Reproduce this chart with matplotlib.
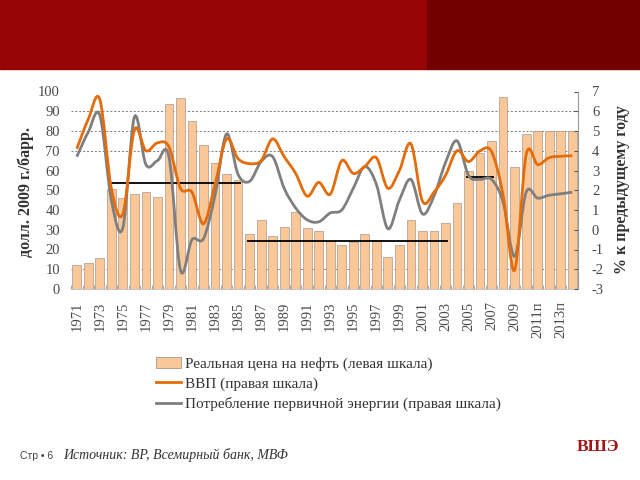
import matplotlib
matplotlib.use('Agg')
import matplotlib.pyplot as plt
import numpy as np
from matplotlib.path import Path
from matplotlib.patches import PathPatch, Rectangle, Patch
from matplotlib.lines import Line2D

plt.rcParams['axes.unicode_minus'] = False

# ---------------- data ----------------
years = list(range(1971, 2015))
tick_labels = ['1971', '1973', '1975', '1977', '1979', '1981', '1983', '1985',
               '1987', '1989', '1991', '1993', '1995', '1997', '1999', '2001',
               '2003', '2005', '2007', '2009', '2011п', '2013п']
oil_price = [12, 13, 15.5, 50.5, 46, 48, 49, 46.5, 93.5, 96.5,
             85, 73, 64, 58, 55, 28, 35, 27, 31.5, 39,
             31, 29.5, 24.5, 22.5, 24, 28, 25, 16, 22.5, 35,
             29.5, 29.5, 33.5, 43.5, 60, 69, 75, 97, 62, 78.5,
             80, 80, 80, 80]
gdp = [4.1, 5.6, 6.6, 2.1, 0.8, 5.05, 4.0, 4.4, 4.2, 2.1,
       1.9, 0.3, 2.3, 4.6, 3.6, 3.35, 3.5, 4.6, 3.7, 2.85,
       1.7, 2.4, 1.8, 3.5, 2.85, 3.2, 3.65, 2.1, 3.0, 4.35,
       1.45, 1.9, 2.75, 4.0, 3.45, 4.0, 3.95, 1.75, -2.05, 3.8,
       3.3, 3.65, 3.72, 3.75]
energy = [3.7, 4.95, 5.8, 1.5, 0.1, 5.7, 3.3, 3.5, 3.7, -2.05,
          -0.5, -0.45, 1.75, 4.85, 2.8, 2.45, 3.45, 3.7, 2.1, 1.1,
          0.5, 0.4, 0.85, 1.0, 2.1, 3.2, 2.3, 0.05, 1.5, 2.55,
          0.8, 1.7, 3.4, 4.5, 2.75, 2.55, 2.55, 1.4, -1.35, 1.9,
          1.6, 1.75, 1.82, 1.9]
avg_periods = [(1974, 1985, 53.5), (1986, 2003, 24.3), (2005, 2007, 56.5)]
grid_levels = [10, 70, 80, 90]

legend_labels = ['Реальная цена на нефть (левая шкала)',
                 'ВВП (правая шкала)',
                 'Потребление первичной энергии (правая шкала)']

SERIF = 'Liberation Serif'
BAR_C = '#FAC898'
BAR_E = '#a8988c'
ORANGE = '#E46C0A'
GRAY = '#7F7F7F'
TXT = '#4a4a4a'


def smooth_path(xs, ys):
    pts = np.column_stack([xs, ys]).astype(float)
    n = len(pts)
    verts = [pts[0]]
    codes = [Path.MOVETO]
    for i in range(n - 1):
        p0 = pts[i - 1] if i > 0 else pts[i]
        p1 = pts[i]
        p2 = pts[i + 1]
        p3 = pts[i + 2] if i + 2 < n else pts[i + 1]
        c1 = p1 + (p2 - p0) / 6.0
        c2 = p2 - (p3 - p1) / 6.0
        verts += [c1, c2, p2]
        codes += [Path.CURVE4] * 3
    return Path(verts, codes)


fig = plt.figure(figsize=(6.4, 4.8), dpi=100)

# banner
fig.patches.append(Rectangle((0, 1 - 69 / 480), 427 / 640, 69 / 480,
                             transform=fig.transFigure, color='#960404', zorder=0))
fig.patches.append(Rectangle((427 / 640, 1 - 69 / 480), 1 - 427 / 640, 69 / 480,
                             transform=fig.transFigure, color='#730000', zorder=0))

ax = fig.add_axes([71 / 640, 1 - 289 / 480, 507 / 640, 197.5 / 480])
x = np.arange(len(years))
ax.bar(x, oil_price, width=0.76, color=BAR_C, edgecolor=BAR_E, linewidth=0.5, zorder=2)
for g in grid_levels:
    ax.axhline(g, color='#7a7a7a', lw=0.7, ls=(0, (2, 2)), zorder=1)
for s, e, v in avg_periods:
    ax.hlines(v, years.index(s) - 0.2, years.index(e) + 0.25, color='black', lw=1.3, zorder=3)
ax.set_xlim(-0.5, len(years) - 0.5)
ax.set_ylim(0, 100)
ax.set_yticks(range(0, 101, 10))
ax.set_xticks(x[::2])
ax.set_xticklabels(tick_labels, rotation=90, fontfamily=SERIF, fontsize=10.5, color=TXT)
ax.set_xticks(np.arange(-0.5, len(years), 1), minor=True)
ax.tick_params(axis='x', which='major', length=0, pad=9)
ax.tick_params(axis='x', which='minor', length=3, direction='in', color='#999999')
ax.tick_params(axis='y', length=0, pad=8, labelsize=10.5, labelcolor=TXT)
for lab in ax.get_yticklabels():
    lab.set_fontfamily(SERIF)
for sp in ['left', 'top', 'right']:
    ax.spines[sp].set_visible(False)
ax.spines['bottom'].set_color('#bbbbbb')
ax.spines['bottom'].set_linewidth(0.6)

ax2 = ax.twinx()
ax2.add_patch(PathPatch(smooth_path(x, gdp), fill=False, edgecolor=ORANGE, lw=2.0, zorder=4))
ax2.add_patch(PathPatch(smooth_path(x, energy), fill=False, edgecolor=GRAY, lw=2.0, zorder=3))
ax2.set_ylim(-3, 7)
ax2.set_xlim(-0.5, len(years) - 0.5)
ax2.set_yticks(range(-3, 8))
ax2.tick_params(axis='y', length=3, direction='in', color='#555555', pad=10,
                labelsize=10.5, labelcolor=TXT)
for lab in ax2.get_yticklabels():
    lab.set_fontfamily(SERIF)
for sp in ['left', 'top', 'bottom']:
    ax2.spines[sp].set_visible(False)
ax2.spines['right'].set_color('#999999')
ax2.spines['right'].set_linewidth(0.8)

fig.text(26 / 640, 1 - 192 / 480, 'долл. 2009 г./барр.', rotation=90, ha='center', va='center',
         fontfamily=SERIF, fontsize=11.5, fontweight='bold', color='#333333')
fig.text(622 / 640, 1 - 190 / 480, '% к предыдущему году', rotation=90, ha='center', va='center',
         fontfamily=SERIF, fontsize=11.5, fontweight='bold', color='#333333')

handles = [Patch(facecolor=BAR_C, edgecolor=BAR_E, linewidth=0.6),
           Line2D([0], [0], color=ORANGE, lw=2),
           Line2D([0], [0], color=GRAY, lw=2)]
fig.legend(handles, legend_labels, loc='upper left', bbox_to_anchor=(150 / 640, 1 - 351 / 480),
           frameon=False, prop={'family': SERIF, 'size': 11}, handlelength=1.6,
           handletextpad=0.3, labelspacing=0.4, borderaxespad=0, labelcolor='#333333')

fig.text(20 / 640, 1 - 456 / 480, 'Стр • 6', fontfamily='Liberation Sans', fontsize=7.5,
         color='#444444', va='center')
fig.text(63 / 640, 1 - 455 / 480, 'Источник: BP, Всемирный банк, МВФ', fontfamily=SERIF,
         fontstyle='italic', fontsize=10, color='#333333', va='center')
fig.text(598 / 640, 1 - 447 / 480, 'ВШЭ', fontfamily=SERIF, fontweight='bold', fontsize=12.5,
         color='#A01515', ha='center', va='center')

fig.savefig('out.png', dpi=100)
